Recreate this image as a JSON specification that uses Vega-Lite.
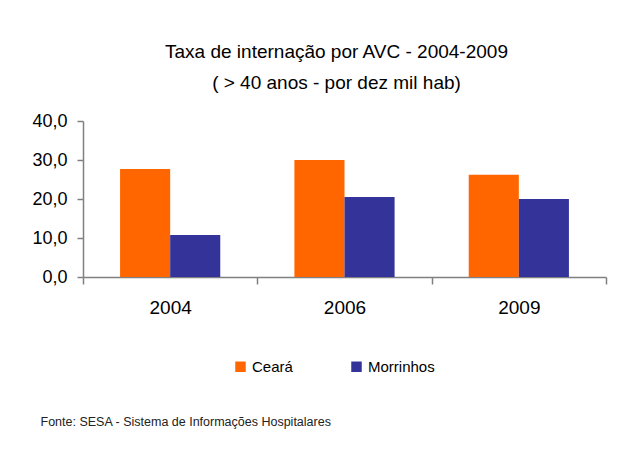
{
  "$schema": "https://vega.github.io/schema/vega-lite/v6.json",
  "width": 523,
  "height": 156,
  "autosize": {"type": "none"},
  "padding": {"left": 83, "top": 121, "right": 18, "bottom": 173},
  "background": "white",
  "config": {
    "locale": {"number": {"decimal": ",", "thousands": ".", "grouping": [3], "currency": ["R$", ""]}},
    "font": "Liberation Sans",
    "view": {"stroke": null}
  },
  "title": {
    "text": ["Taxa de internação por AVC - 2004-2009", "( > 40 anos - por dez mil hab)"],
    "fontSize": 19,
    "fontWeight": "normal",
    "color": "#000000",
    "lineHeight": 31,
    "anchor": "middle",
    "dx": -8,
    "offset": 19
  },
  "data": {
    "values": [
      {"ano": "2004", "local": "Ceará", "taxa": 27.7},
      {"ano": "2004", "local": "Morrinhos", "taxa": 10.8},
      {"ano": "2006", "local": "Ceará", "taxa": 30.0},
      {"ano": "2006", "local": "Morrinhos", "taxa": 20.5},
      {"ano": "2009", "local": "Ceará", "taxa": 26.2},
      {"ano": "2009", "local": "Morrinhos", "taxa": 20.0}
    ]
  },
  "mark": {"type": "bar"},
  "encoding": {
    "x": {
      "field": "ano",
      "type": "nominal",
      "scale": {"paddingInner": 0, "paddingOuter": 0},
      "axis": {
        "title": "Fonte: SESA - Sistema de Informações Hospitalares",
        "titleX": -43,
        "titleY": 144,
        "titleAlign": "left",
        "titleBaseline": "middle",
        "titleFontSize": 12.5,
        "titleFontWeight": "normal",
        "titleColor": "#222222",
        "labelAngle": 0,
        "labelFontSize": 19,
        "labelColor": "#000000",
        "labelPadding": 14,
        "tickBand": "extent",
        "tickSize": 7,
        "tickColor": "#808080",
        "domainColor": "#808080",
        "tickWidth": 1.5,
        "domainWidth": 1.5
      }
    },
    "xOffset": {
      "field": "local",
      "type": "nominal",
      "scale": {"paddingInner": 0, "paddingOuter": 0.74}
    },
    "y": {
      "field": "taxa",
      "type": "quantitative",
      "scale": {"domain": [0, 40]},
      "axis": {
        "title": null,
        "values": [0, 10, 20, 30, 40],
        "format": ".1f",
        "grid": false,
        "labelFontSize": 18,
        "labelColor": "#000000",
        "labelPadding": 10,
        "tickSize": 6,
        "tickColor": "#808080",
        "domainColor": "#808080",
        "tickWidth": 1.5,
        "domainWidth": 1.5
      }
    },
    "color": {
      "field": "local",
      "type": "nominal",
      "scale": {"domain": ["Ceará", "Morrinhos"], "range": ["#FF6600", "#333399"]},
      "legend": {
        "title": null,
        "orient": "none",
        "legendX": 150,
        "legendY": 238,
        "direction": "horizontal",
        "symbolType": "square",
        "symbolSize": 110,
        "symbolStrokeWidth": 0,
        "labelFontSize": 15,
        "labelColor": "#000000",
        "labelOffset": 4,
        "columnPadding": 56
      }
    }
  }
}
